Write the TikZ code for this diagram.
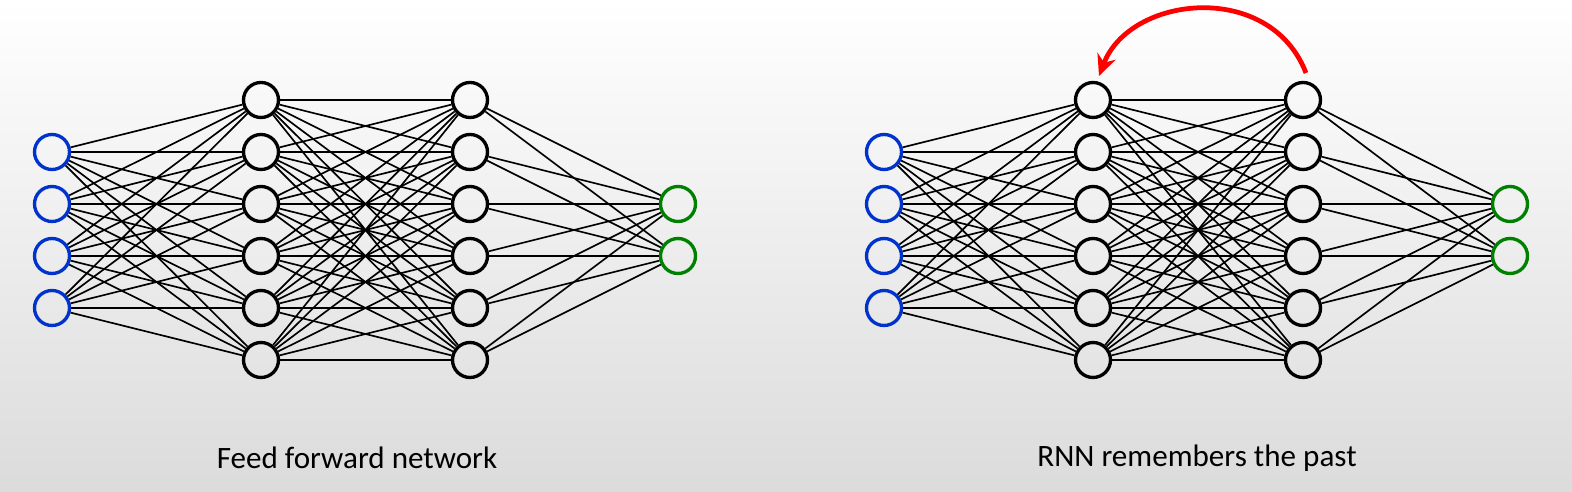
\documentclass[tikz,border=0pt]{standalone}
\usepackage{fontspec}
\setmainfont{Carlito}
\usetikzlibrary{arrows.meta}

\begin{document}
\begin{tikzpicture}[x=0.02cm,y=-0.02cm,
  neuron/.style={draw,circle,line width=1.9pt,minimum size=0.7cm,inner sep=0pt},
  inneuron/.style={neuron,draw=blue!75!cyan!80!black},
  outneuron/.style={neuron,draw=green!50!black},
  link/.style={line width=0.95pt},
  caption/.style={font=\fontsize{17.7}{21}\selectfont}]

% background
\shade[top color=white,middle color=gray!8,bottom color=gray!28] (0,0) rectangle (1572,492);
\useasboundingbox (0,0) rectangle (1572,492);

% feed forward network
\foreach \i/\y in {1/152,2/204,3/256,4/308}
  \node[inneuron] (fi\i) at (52,\y) {};
\foreach \i/\y in {1/100,2/152,3/204,4/256,5/308,6/360}{
  \node[neuron] (fa\i) at (261,\y) {};
  \node[neuron] (fb\i) at (470,\y) {};
}
\foreach \i/\y in {1/204,2/256}
  \node[outneuron] (fo\i) at (678,\y) {};

\foreach \i in {1,...,4}
  \foreach \j in {1,...,6}
    \draw[link] (fi\i)--(fa\j);
\foreach \i in {1,...,6}
  \foreach \j in {1,...,6}
    \draw[link] (fa\i)--(fb\j);
\foreach \i in {1,...,6}
  \foreach \j in {1,2}
    \draw[link] (fb\i)--(fo\j);

\node[caption] (fcap) at (357,458) {Feed forward network};

% recurrent network
\foreach \i/\y in {1/152,2/204,3/256,4/308}
  \node[inneuron] (ri\i) at (884,\y) {};
\foreach \i/\y in {1/100,2/152,3/204,4/256,5/308,6/360}{
  \node[neuron] (ra\i) at (1093,\y) {};
  \node[neuron] (rb\i) at (1303,\y) {};
}
\foreach \i/\y in {1/204,2/256}
  \node[outneuron] (ro\i) at (1510,\y) {};

\foreach \i in {1,...,4}
  \foreach \j in {1,...,6}
    \draw[link] (ri\i)--(ra\j);
\foreach \i in {1,...,6}
  \foreach \j in {1,...,6}
    \draw[link] (ra\i)--(rb\j);
\foreach \i in {1,...,6}
  \foreach \j in {1,2}
    \draw[link] (rb\i)--(ro\j);

\coordinate (rs) at (1306,73);
\coordinate (re) at (1099,76);
\draw[red,line width=2.7pt,-{Stealth[length=12pt,width=11pt]}] (rs) .. controls (1270,-20) and (1130,-5) .. (re);

\node[caption] (rcap) at (1197,458) {RNN remembers the past};

\end{tikzpicture}
\end{document}
